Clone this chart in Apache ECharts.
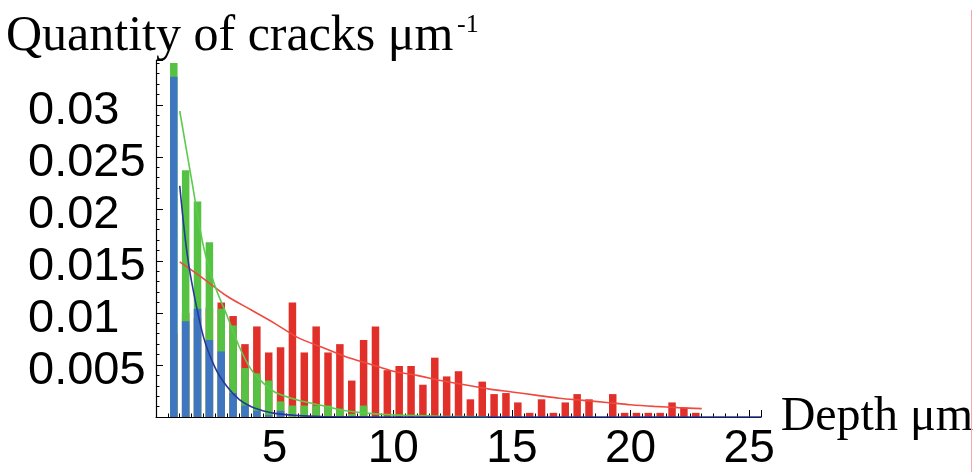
<!DOCTYPE html>
<html>
<head>
<meta charset="utf-8">
<script src="https://cdn.jsdelivr.net/npm/echarts@6/dist/echarts.min.js"></script>
<style>
  html, body { margin: 0; padding: 0; background: #ffffff; }
  #chart { width: 976px; height: 472px; }
</style>
</head>
<body>
<div id="chart"></div>
<script>
// Histogram bins (depth, µm): centres of 0.5 µm wide bins
const binCenters = [
  0.75, 1.25, 1.75, 2.25, 2.75, 3.25, 3.75, 4.25, 4.75, 5.25,
  5.75, 6.25, 6.75, 7.25, 7.75, 8.25, 8.75, 9.25, 9.75, 10.25,
  10.75, 11.25, 11.75, 12.25, 12.75, 13.25, 13.75, 14.25, 14.75, 15.25,
  15.75, 16.25, 16.75, 17.25, 17.75, 18.25, 18.75, 19.25, 19.75, 20.25,
  20.75, 21.25, 21.75, 22.25, 22.75
];

// Crack density per bin (cracks per µm) for the three samples
const blueBars = [
  0.0327, 0.0092, 0.0104, 0.0074, 0.0063, 0.0023, 0.0011, 0.0006, 0.0002, 0.0006,
  0, 0, 0, 0, 0, 0, 0, 0, 0, 0,
  0, 0, 0, 0, 0, 0, 0, 0, 0, 0,
  0, 0, 0, 0, 0, 0, 0, 0, 0, 0,
  0, 0, 0, 0, 0
];
const greenBars = [
  0.0340, 0.0237, 0.0207, 0.0168, 0.0104, 0.0088, 0.0047, 0.0042, 0.0035, 0.0015,
  0.0011, 0.0011, 0.0011, 0.0011, 0.0008, 0.0003, 0.0011, 0, 0, 0,
  0, 0, 0, 0, 0, 0, 0, 0, 0, 0,
  0, 0, 0, 0, 0, 0, 0, 0, 0, 0,
  0, 0, 0, 0, 0
];
const redBars = [
  0.0080, 0.0100, 0.0095, 0.0105, 0.0110, 0.0097, 0.0070, 0.0087, 0.0062, 0.0067,
  0.0110, 0.0062, 0.0087, 0.0062, 0.0070, 0.0035, 0.0074, 0.0087, 0.0045, 0.0049,
  0.0049, 0.0031, 0.0057, 0.0039, 0.0044, 0.0017, 0.0034, 0.0022, 0.0023, 0.0014,
  0.0004, 0.0017, 0.0004, 0.0014, 0.0022, 0.0017, 0, 0.0022, 0.0004, 0.0004,
  0.0004, 0.0004, 0.0014, 0.0009, 0.0004
];

// Fitted decay curves, sampled as [depth, density]
const blueFit = [
  [1.0, 0.0222], [1.25, 0.0168], [1.5, 0.0130], [2.0, 0.0077], [2.5, 0.0047],
  [3.0, 0.0029], [3.5, 0.0017], [4.0, 0.0010], [4.5, 0.0006], [5.0, 0.00035],
  [6.0, 0.00013], [7.0, 0.00005], [9.0, 0.00001], [25.5, 0]
];
const greenFit = [
  [1.0, 0.0294], [1.5, 0.0228], [2.0, 0.0164], [2.5, 0.0125], [3.0, 0.0097],
  [3.5, 0.0068], [4.0, 0.0046], [4.5, 0.0033], [5.0, 0.0024], [6.0, 0.0016],
  [7.0, 0.0011], [8.0, 0.0006], [9.0, 0.00035], [10.0, 0.0002], [12.0, 0.00007],
  [14.0, 0.00003]
];
const redFit = [
  [1, 0.0149], [2, 0.0133], [3, 0.0116], [4, 0.0103], [5, 0.0090], [6, 0.0076],
  [7, 0.0067], [8, 0.0058], [9, 0.0051], [10, 0.0044], [11, 0.0040], [12, 0.0035],
  [13, 0.0031], [14, 0.0027], [15, 0.0024], [16, 0.0021], [17, 0.0018], [18, 0.0016],
  [19, 0.0014], [20, 0.00118], [21, 0.00102], [22, 0.0009], [23, 0.0008]
];

// Axis tick labels
const xTickLabels = ['5', '10', '15', '20', '25'];
const yTickLabels = ['0.005', '0.01', '0.015', '0.02', '0.025', '0.03'];

const COLORS = {
  blueBar: '#3f76c0', greenBar: '#55c244', redBar: '#e1302a',
  blueLine: '#27389a', greenLine: '#5ccb4c', redLine: '#ef4a3f'
};

const pairs = arr => binCenters.map((x, i) => [x, arr[i]]);

const chart = echarts.init(document.getElementById('chart'), null, { renderer: 'canvas' });

const GRID_LEFT = 156;
const Y_LABEL_LEFT = 28;

chart.setOption({
  animation: false,
  backgroundColor: '#ffffff',
  grid: { left: GRID_LEFT, right: 214, top: 60, bottom: 51 },
  xAxis: {
    type: 'value',
    min: 0, max: 25.5, interval: 5,
    name: 'Depth μm',
    nameLocation: 'end',
    nameGap: 11,
    nameTextStyle: { fontFamily: 'Liberation Serif', fontSize: 48, color: '#000', padding: [6, 0, 0, 0] },
    axisLine: { show: true, onZero: false, lineStyle: { color: '#000', width: 1.2 } },
    axisTick: { show: true, inside: true, length: 7, lineStyle: { color: '#000', width: 1 } },
    minorTick: { show: true, splitNumber: 10, length: 3.5, lineStyle: { color: '#000', width: 1 } },
    splitLine: { show: false },
    minorSplitLine: { show: false },
    axisLabel: {
      fontFamily: 'Liberation Sans', fontSize: 46, color: '#000',
      margin: 9,
      showMaxLabel: false,
      formatter: v => {
        const i = xTickLabels.indexOf(String(v));
        return i >= 0 ? xTickLabels[i] : '';
      }
    }
  },
  yAxis: {
    type: 'value',
    min: 0, max: 0.0343, interval: 0.005,
    axisLine: { show: true, onZero: false, lineStyle: { color: '#000', width: 1.2 } },
    axisTick: { show: true, inside: true, length: 7, lineStyle: { color: '#000', width: 1 } },
    minorTick: { show: true, splitNumber: 5, length: 3.5, lineStyle: { color: '#000', width: 1 } },
    splitLine: { show: false },
    minorSplitLine: { show: false },
    axisLabel: {
      fontFamily: 'Liberation Sans', fontSize: 47, color: '#000',
      align: 'left',
      verticalAlign: 'top',
      lineHeight: 12,
      margin: GRID_LEFT - Y_LABEL_LEFT,
      showMaxLabel: false,
      formatter: v => {
        const s = String(+v.toFixed(3));
        return yTickLabels.indexOf(s) >= 0 ? s : '';
      }
    }
  },
  series: [
    { type: 'bar', data: pairs(redBars), barWidth: 7.5, barGap: '-100%',
      itemStyle: { color: COLORS.redBar }, z: 2 },
    { type: 'bar', data: pairs(greenBars), barWidth: 7.5, barGap: '-100%',
      itemStyle: { color: COLORS.greenBar }, z: 2 },
    { type: 'bar', data: pairs(blueBars), barWidth: 7.5, barGap: '-100%',
      itemStyle: { color: COLORS.blueBar }, z: 2 },
    { type: 'line', data: redFit, showSymbol: false, smooth: 0.3,
      lineStyle: { color: COLORS.redLine, width: 1.6 }, z: 4 },
    { type: 'line', data: greenFit, showSymbol: false, smooth: 0.3,
      lineStyle: { color: COLORS.greenLine, width: 1.6 }, z: 4 },
    { type: 'line', data: blueFit, showSymbol: false, smooth: 0.3,
      lineStyle: { color: COLORS.blueLine, width: 1.6 }, z: 4 }
  ],
  graphic: [
    { type: 'text', left: 6, top: 12, z: 10,
      style: { text: 'Quantity of cracks μm', font: '50px "Liberation Serif"', fill: '#000' } },
    { type: 'text', left: 457, top: 12, z: 10,
      style: { text: '-1', font: '26px "Liberation Serif"', fill: '#000' } },
    { type: 'line', z: 10,
      shape: { x1: 971.5, y1: 10, x2: 971.5, y2: 472 },
      style: { stroke: '#f6a9a9', lineWidth: 1 } }
  ]
});
</script>
</body>
</html>
